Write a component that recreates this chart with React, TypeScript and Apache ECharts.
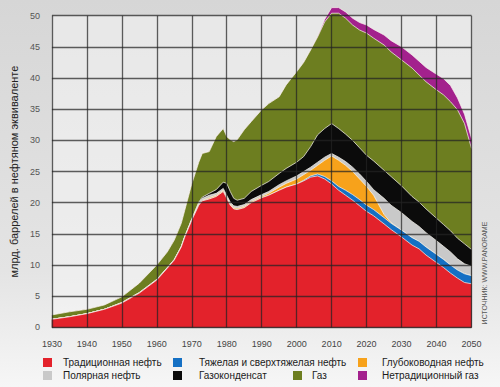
import React, { useEffect, useRef } from "react";
import * as echarts from "echarts";

const years = [1930, 1935, 1940, 1945, 1950, 1955, 1960, 1963, 1965, 1967, 1968, 1970, 1972, 1973, 1975, 1977, 1979, 1980, 1981, 1982, 1983, 1985, 1987, 1990, 1992, 1995, 1997, 2000, 2002, 2004, 2006, 2008, 2010, 2012, 2014, 2016, 2018, 2020, 2022, 2025, 2027, 2030, 2033, 2035, 2037, 2040, 2042, 2044, 2046, 2048, 2050];

const conventionalOil = [1.3, 1.7, 2.2, 2.9, 3.9, 5.5, 7.6, 9.5, 10.8, 12.9, 14.5, 17.2, 19.6, 20.3, 20.6, 21.0, 21.8, 20.7, 19.6, 19.0, 18.9, 19.2, 20.0, 20.8, 21.2, 22.0, 22.5, 23.0, 23.5, 24.1, 24.3, 23.8, 23.0, 22.0, 21.2, 20.4, 19.5, 18.6, 17.9, 16.6, 15.7, 14.5, 13.2, 12.6, 11.6, 10.4, 9.6, 8.7, 7.9, 7.2, 7.0];
const heavyOil = [0, 0, 0, 0, 0, 0, 0, 0, 0, 0, 0, 0, 0, 0, 0, 0, 0, 0, 0, 0, 0, 0, 0, 0, 0, 0, 0, 0, 0.1, 0.2, 0.3, 0.4, 0.5, 0.6, 0.8, 0.9, 1.0, 1.0, 1.0, 1.0, 1.0, 1.1, 1.2, 1.2, 1.3, 1.3, 1.3, 1.3, 1.3, 1.4, 1.3];
const deepwaterOil = [0, 0, 0, 0, 0, 0, 0, 0, 0, 0, 0, 0, 0.1, 0.1, 0.2, 0.2, 0.2, 0.2, 0.2, 0.2, 0.2, 0.2, 0.2, 0.2, 0.3, 0.5, 0.6, 0.8, 0.9, 0.9, 1.4, 2.6, 4.0, 4.2, 4.0, 3.7, 3.3, 3.0, 2.3, 0.5, 0.1, 0, 0, 0, 0, 0, 0, 0, 0, 0, 0];
const polarOil = [0, 0, 0, 0, 0.1, 0.1, 0.1, 0.1, 0.1, 0.1, 0.1, 0.2, 0.3, 0.3, 0.4, 0.3, 0.3, 0.3, 0.3, 0.3, 0.3, 0.3, 0.3, 0.3, 0.3, 0.4, 0.4, 0.5, 0.5, 0.5, 0.5, 0.5, 0.4, 0.5, 0.6, 0.7, 0.8, 0.8, 0.9, 2.6, 2.8, 2.8, 2.6, 2.4, 2.3, 2.2, 2.1, 2.1, 1.8, 1.6, 1.5];
const condensate = [0, 0, 0, 0, 0, 0, 0, 0, 0, 0, 0, 0, 0.1, 0.2, 0.3, 0.6, 1.0, 1.9, 1.7, 1.2, 1.0, 1.0, 1.3, 1.5, 1.6, 1.8, 2.0, 2.2, 2.4, 3.3, 4.4, 4.6, 4.8, 4.6, 4.4, 4.3, 4.2, 4.2, 4.6, 4.5, 4.6, 4.3, 4.0, 3.9, 3.8, 3.6, 3.5, 3.4, 3.3, 3.2, 2.7];
const gas = [0.7, 0.8, 0.7, 0.7, 0.9, 1.5, 2.3, 2.5, 3.1, 3.7, 4.2, 5.6, 6.4, 7.0, 6.7, 8.5, 8.6, 7.5, 8.3, 9.1, 9.7, 11.0, 11.2, 12.1, 12.5, 12.3, 13.4, 14.5, 15.1, 15.5, 15.7, 17.1, 17.7, 18.5, 18.6, 18.5, 18.9, 19.6, 19.7, 20.1, 20.0, 20.2, 20.6, 20.4, 20.4, 20.6, 20.8, 20.7, 20.6, 19.3, 16.2];
const unconventionalGas = [0, 0, 0, 0, 0, 0, 0, 0, 0, 0, 0, 0, 0, 0, 0, 0, 0, 0, 0, 0, 0, 0, 0, 0, 0, 0, 0, 0, 0, 0, 0.1, 0.4, 0.9, 0.9, 1.0, 1.1, 1.2, 1.3, 1.4, 1.6, 1.8, 2.1, 2.1, 2.2, 2.3, 2.5, 2.6, 2.6, 1.9, 1.5, 1.6];

const seriesNames = [
  "Традиционная нефть",
  "Тяжелая и сверхтяжелая нефть",
  "Глубоководная нефть",
  "Полярная нефть",
  "Газоконденсат",
  "Газ",
  "Нетрадиционный газ",
];
const seriesColors = ["#e3222b", "#1570c4", "#f7a21b", "#c9c9c9", "#0b0b0b", "#6d7e20", "#a3218d"];
const seriesValues = [conventionalOil, heavyOil, deepwaterOil, polarOil, condensate, gas, unconventionalGas];

const yTitle = "млрд. баррелей в нефтяном эквиваленте";
const sourceText = "ИСТОЧНИК: WWW.PANORAME";

const FONT = "'Liberation Sans', Arial, sans-serif";

export default function App() {
  const ref = useRef<HTMLDivElement>(null);

  useEffect(() => {
    document.body.style.margin = "0";
    if (!ref.current) return;
    const chart = echarts.init(ref.current, undefined, { renderer: "svg" });

    // cumulative tops of each layer (stacked areas drawn as overlapping fills)
    const cumulative: number[][] = [];
    seriesValues.forEach((vals, i) => {
      cumulative.push(
        vals.map((v, j) => +(v + (i > 0 ? cumulative[i - 1][j] : 0)).toFixed(2))
      );
    });

    const series = seriesNames.map((name, i) => ({
      name,
      type: "line",
      symbol: "none",
      smooth: false,
      clip: false,
      color: seriesColors[i],
      lineStyle: { color: "rgba(250,246,238,0.9)", width: 0.8 },
      areaStyle: { color: seriesColors[i], opacity: 1, origin: "start" },
      data: years.map((y, j) => [y, cumulative[i][j]]),
      z: 10 - i,
    }));

    const legendCommon = {
      orient: "vertical",
      padding: 0,
      itemWidth: 9,
      itemHeight: 9,
      itemGap: 1,
      icon: "rect",
      selectedMode: false,
    };
    const legendText = (padLeft: number) => ({
      fontFamily: FONT,
      fontSize: 10,
      color: "#1a1a1a",
      lineHeight: 12,
      padding: [0, 0, 0, padLeft],
    });

    chart.setOption({
      animation: false,
      backgroundColor: new echarts.graphic.LinearGradient(0, 0, 0, 1, [
        { offset: 0, color: "#d6d6d6" },
        { offset: 0.7, color: "#e4e4e4" },
        { offset: 1, color: "#f6f6f6" },
      ]),
      textStyle: { fontFamily: FONT },
      grid: {
        left: 51,
        right: 28.5,
        top: 15.7,
        bottom: 59.6,
        show: true,
        backgroundColor: "rgba(245,245,245,0.55)",
        borderWidth: 0,
      },
      xAxis: {
        type: "value",
        min: 1930,
        max: 2050,
        interval: 10,
        z: 20,
        axisLine: { show: false },
        axisTick: { show: false },
        axisLabel: {
          formatter: (v: number) => String(v),
          fontSize: 9,
          color: "#444",
          margin: 12,
          fontFamily: FONT,
        },
        splitLine: { show: true, lineStyle: { color: "rgba(35,35,35,0.72)", width: 1.3 } },
      },
      yAxis: {
        type: "value",
        min: 0,
        max: 50,
        interval: 5,
        z: 20,
        name: yTitle,
        nameLocation: "middle",
        nameGap: 31,
        nameTextStyle: { fontSize: 11, color: "#222", fontFamily: FONT },
        axisLine: { show: false },
        axisTick: { show: false },
        axisLabel: {
          fontSize: 9,
          color: "#555",
          margin: 12,
          padding: [0, 0, 8, 0],
          fontFamily: FONT,
        },
        splitLine: { show: true, lineStyle: { color: "rgba(35,35,35,0.72)", width: 1.3 } },
      },
      legend: [
        { ...legendCommon, left: 43, top: 356.5, data: [seriesNames[0], seriesNames[3]], textStyle: legendText(6) },
        { ...legendCommon, left: 173, top: 356.5, data: [seriesNames[1], seriesNames[4]], textStyle: legendText(12) },
        { ...legendCommon, left: 293, top: 369.5, data: [seriesNames[5]], textStyle: legendText(5) },
        { ...legendCommon, left: 358, top: 356.5, data: [seriesNames[2], seriesNames[6]], textStyle: legendText(10) },
      ],
      graphic: [
        {
          type: "text",
          x: 484,
          y: 273,
          rotation: Math.PI / 2,
          style: {
            text: sourceText,
            fontSize: 7,
            fill: "#555",
            align: "center",
            verticalAlign: "middle",
            fontFamily: FONT,
          },
        },
      ],
      series,
    });

    return () => {
      chart.dispose();
    };
  }, []);

  return <div ref={ref} style={{ width: 500, height: 387 }} />;
}
